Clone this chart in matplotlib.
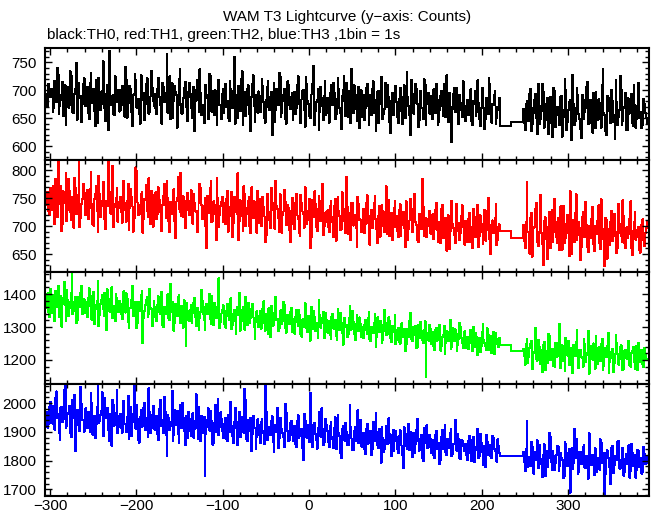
import numpy as np
import matplotlib
matplotlib.use("Agg")
import matplotlib.pyplot as plt
from matplotlib.ticker import MultipleLocator

plt.rcParams['font.family'] = ['Liberation Sans', 'DejaVu Sans']

# ---------------- data (counts per 1 s bin) ----------------
# each series is kept as counts of even seconds and counts of odd seconds
bin_width = 1.0
pre_start = -305.0
gap_edges = [221.0, 234.0, 248.0]   # two long bins covering the data gap


def arr(s):
    return np.array(s.split(), dtype=float)


th0_pre_even = arr("""
694 671 703
699 662 717 679 728 672 692 654 709 696 669 734 685 659 702 647 713 690 675 722
671 706 648 731 688 663 719 641 697 676 752 667 693 628 710 684 657 725 679 701
665 708 689 742 651 677 703 636 694 719 672 658 727 683 646 711 698 662 735 680
693 657 722 674 640 706 688 766 669 649 713 681 697 633 720 676 659 704 690 645
714 668 695 627 701 683 738 655 672 709 691 648 726 662 687 700 637 719 674 693
659 712 681 645 703 668 760 692 651 684 721 638 697 673 709 656 688 727 644 682
698 661 720 679 642 706 670 689 619 713 665 694 731 652 680 702 640 716 673 688
647 697 668 725 659 684 701 635 712 676 650 693 744 663 682 628 706 671 690 655
687 642 709 673 695 656 723 668 631 700 681 714 652 677 739 660 692 645 706 674
652 691 669 712 638 683 703 660 627 698 675 724 648 666 690 709 643 681 655 701
679 641 705 662 688 650 733 672 619 694 658 711 676 645 699 668 720 637 683 660
690 648 676 711 637 665 699 654 682 727 643 670 607 694 661 705 639 678 652 688
645 683 662 702 637 676 654 718 648 669 693 631 687 658 711 642 673 698 650 664
""")
th0_pre_odd = arr("""
676 712 688
703 668 690 741 657 682 715 699 638 706 674 727 661 693 750 670 686 643 711 681
692 659 714 677 703 636 688 722 665 698 680 645 709 771 674 691 656 717 683 662
700 674 653 719 686 708 661 692 729 669 684 640 711 696 675 722 658 689 705 671
667 702 688 645 714 679 696 660 725 684 651 707 692 673 738 658 686 715 669 698
688 651 706 680 719 662 695 674 641 710 686 730 668 699 655 683 712 673 649 702
694 670 651 717 685 699 640 676 708 663 734 681 654 702 688 627 711 671 692 660
662 689 707 651 683 716 664 697 680 643 702 674 725 660 692 649 684 709 667 695
688 658 710 676 641 699 665 724 681 654 692 713 638 679 702 661 687 647 716 670
659 696 676 714 649 685 703 660 690 726 654 672 698 641 683 709 667 692 633 700
681 647 705 672 692 655 716 664 684 641 699 677 657 714 670 688 624 696 662 708
652 684 697 640 709 673 688 655 719 662 677 703 634 690 668 649 711 676 695 658
676 702 659 684 643 690 671 711 652 680 696 628 667 705 685 647 692 664 716 653
673 655 690 644 681 699 662 677 636 705 668 649 684 722 657 676 692 640 670 687
""")
th0_gap = np.array([636, 643], dtype=float)
th0_post_even = arr("""
667 629 681 645 702 638 659 694 621 673 648 712 633 666 687 642 679 616 698 655
671 637 690 652 721 628 664 683 610 676 645 705 657 631 692 649 668 715 640 683
624 661 697 646 678 633 739 655 620 687 662 701 644 613 679 652 726 637 668 695
628 657 684 641 709 633 672 650 661 638 676 652
""")
th0_post_odd = arr("""
641 676 658 693 627 669 684 651 712 639 663 698 646 677 622 688 659 705 634 670
652 689 617 664 701 643 679 656 728 637 668 691 649 615 684 661 707 640 675 653
696 632 667 684 648 710 659 626 690 672 641 681 655 719 638 664 702 645 671 628
687 660 694 636 673 649 713 655 632 684 659 642
""")

th1_pre_even = arr("""
737 761 719
728 771 703 756 818 739 691 762 745 709 784 726 752 697 768 735 822 714 748 760
719 765 731 796 703 748 772 689 757 736 779 712 745 825 724 761 698 740 768 733
752 706 781 728 744 693 767 735 714 805 742 721 758 688 749 773 716 738 762 699
748 712 769 726 691 754 737 781 709 743 722 766 678 751 730 795 717 745 702 759
719 764 704 742 727 689 776 738 713 751 660 729 768 707 744 721 785 698 736 752
741 703 763 718 735 680 752 726 794 709 738 691 757 721 745 700 769 714 733 688
706 749 718 734 671 758 725 697 742 712 781 731 689 746 720 764 702 738 693 727
734 695 757 713 682 741 722 769 704 728 660 746 716 739 691 753 709 775 700 725
728 689 745 707 736 674 752 718 695 731 709 788 686 724 742 701 718 663 739 712
693 731 704 755 679 718 697 741 712 669 736 705 727 690 771 708 682 724 699 745
718 680 739 702 725 662 711 694 748 689 731 707 676 722 698 784 683 715 700 727
686 721 694 741 672 708 731 679 703 656 719 690 745 697 669 724 706 688 737 681
709 672 724 690 661 716 697 738 683 705 668 729 692 751 676 702 687 714 666 698
""")
th1_pre_odd = arr("""
752 726 768
757 733 784 716 749 771 704 742 795 728 763 711 747 786 722 755 698 740 776 731
748 712 767 739 701 758 727 790 716 745 769 695 736 761 722 808 733 750 708 744
725 763 741 708 776 733 752 690 744 798 719 738 761 712 747 727 785 703 740 756
760 721 747 699 738 775 714 751 690 733 762 708 744 788 725 718 753 696 740 729
745 705 757 726 690 742 768 713 736 699 754 724 780 709 738 675 751 720 743 707
712 748 690 734 761 705 739 722 675 746 718 771 700 732 752 687 726 744 708 763
738 700 752 717 683 745 710 768 729 695 736 714 757 688 726 743 704 733 672 750
703 741 719 688 756 726 697 735 710 748 680 725 762 699 731 716 745 684 722 707
699 735 716 681 748 708 727 693 760 714 688 734 705 675 741 720 696 752 710 689
724 688 742 705 667 729 713 753 694 719 681 738 700 726 686 747 711 675 732 698
691 729 683 716 697 744 676 710 726 689 758 702 671 720 694 735 709 680 713 687
712 677 729 693 706 670 738 686 715 697 659 723 703 684 740 691 675 718 699 667
683 712 671 699 730 680 706 662 719 690 701 674 727 687 650 710 694 739 676 703
""")
th1_gap = np.array([691, 679], dtype=float)
th1_post_even = arr("""
702 661 779 688 714 645 697 731 672 690 756 668 709 683 641 725 694 672 748 680
715 657 698 736 669 704 687 762 651 693 724 675 708 640 717 689 743 662 700 678
734 655 692 710 670 748 684 629 712 695 666 727 681 703 652 739 688 671 718 660
699 685 744 648 707 676 693 658 690 712 664 696
""")
th1_post_odd = arr("""
673 708 690 651 724 682 699 741 664 705 687 630 716 676 698 661 729 689 707 670
693 735 658 701 679 720 646 688 710 672 757 684 697 663 726 680 702 654 691 714
668 700 685 737 659 695 677 715 642 689 708 673 722 690 661 704 683 746 670 697
678 713 660 692 726 681 699 652 703 675 688 707
""")

th2_pre_even = arr("""
1358 1402 1331
1342 1398 1317 1381 1426 1352 1301 1389 1366 1412 1334 1377 1463 1348 1392 1320 1371 1405 1339 1384
1376 1329 1417 1352 1395 1308 1368 1441 1337 1382 1356 1403 1291 1374 1347 1420 1363 1318 1389 1345
1371 1323 1408 1344 1386 1297 1359 1426 1335 1377 1312 1364 1398 1251 1349 1383 1330 1416 1356 1339
1362 1317 1393 1338 1406 1301 1355 1377 1326 1432 1347 1289 1369 1334 1398 1312 1358 1381 1243 1350
1318 1366 1341 1389 1302 1356 1327 1412 1338 1290 1371 1349 1324 1395 1306 1362 1337 1448 1315 1353
1344 1298 1369 1321 1387 1306 1352 1279 1336 1403 1317 1361 1292 1340 1374 1312 1355 1329 1265 1348
1301 1349 1326 1378 1289 1333 1357 1270 1340 1312 1391 1325 1296 1351 1318 1366 1283 1337 1309 1359
1324 1280 1351 1302 1338 1271 1316 1372 1295 1333 1259 1320 1348 1289 1311 1382 1298 1327 1266 1342
1283 1319 1265 1341 1301 1274 1356 1290 1312 1246 1328 1305 1279 1364 1293 1317 1260 1336 1288 1309
1301 1266 1322 1280 1345 1258 1296 1313 1239 1329 1284 1307 1262 1351 1277 1299 1318 1255 1292 1336
1262 1298 1249 1311 1283 1227 1295 1269 1342 1257 1288 1303 1240 1279 1316 1261 1290 1149 1274 1306
1248 1284 1231 1297 1262 1306 1243 1275 1219 1289 1256 1322 1238 1270 1293 1226 1265 1301 1250 1279
1237 1271 1249 1292 1226 1260 1283 1215 1268 1241 1309 1252 1230 1277 1258 1222 1286 1246 1264 1239
""")
th2_pre_odd = arr("""
1379 1344 1415
1387 1346 1409 1362 1330 1395 1371 1438 1319 1383 1357 1402 1339 1376 1311 1391 1360 1425 1343 1370
1341 1389 1364 1322 1407 1355 1380 1303 1369 1396 1333 1372 1414 1350 1386 1327 1361 1399 1345 1378
1338 1379 1361 1402 1316 1357 1384 1333 1369 1297 1375 1348 1410 1326 1366 1391 1340 1359 1303 1380
1329 1368 1347 1385 1306 1360 1339 1400 1321 1358 1377 1313 1352 1390 1334 1365 1298 1349 1374 1322
1351 1312 1374 1330 1359 1291 1345 1381 1320 1363 1339 1401 1308 1348 1372 1327 1355 1296 1341 1366
1309 1350 1333 1377 1294 1341 1318 1362 1337 1289 1353 1323 1391 1305 1346 1328 1369 1300 1335 1314
1333 1295 1356 1312 1340 1280 1327 1363 1304 1345 1321 1288 1350 1309 1376 1298 1331 1314 1347 1285
1290 1331 1314 1352 1277 1323 1300 1342 1284 1318 1361 1295 1329 1305 1268 1336 1311 1347 1292 1320
1314 1276 1333 1295 1322 1260 1306 1344 1283 1318 1299 1269 1327 1291 1350 1280 1310 1296 1329 1271
1272 1308 1290 1326 1263 1301 1281 1340 1270 1297 1318 1251 1289 1312 1276 1330 1265 1303 1284 1247
1290 1254 1307 1271 1294 1246 1285 1320 1263 1299 1277 1235 1305 1268 1288 1252 1317 1281 1259 1296
1275 1240 1291 1259 1283 1228 1270 1304 1252 1286 1263 1233 1298 1257 1279 1245 1312 1266 1236 1287
1266 1232 1280 1251 1299 1238 1271 1256 1223 1285 1262 1243 1296 1229 1274 1255 1218 1281 1248 1268
""")
th2_gap = np.array([1245, 1227], dtype=float)
th2_post_even = arr("""
1233 1186 1265 1208 1249 1171 1224 1297 1198 1240 1213 1162 1256 1227 1191 1274 1205 1232 1180 1251
1219 1310 1196 1238 1167 1222 1259 1203 1184 1246 1212 1290 1175 1230 1207 1264 1193 1221 1158 1243
1201 1228 1272 1189 1216 1247 1170 1235 1208 1282 1194 1226 1163 1219 1252 1186 1239 1211 1173 1230
1204 1257 1180 1226 1195 1241 1168 1214 1220 1187 1236 1199
""")
th2_post_odd = arr("""
1211 1249 1190 1236 1258 1178 1221 1203 1262 1187 1229 1246 1169 1215 1278 1199 1234 1182 1253 1210
1226 1176 1244 1197 1268 1213 1185 1237 1160 1222 1255 1194 1231 1209 1180 1247 1216 1289 1189 1228
1250 1174 1212 1238 1196 1265 1183 1224 1243 1160 1207 1233 1191 1276 1218 1201 1245 1168 1229 1206
1258 1185 1222 1240 1172 1213 1251 1193 1230 1178 1216 1203
""")

th3_pre_even = arr("""
1948 1915 1986
1931 1992 1908 2041 1963 1872 1987 1945 2073 1919 1968 1896 2012 1950 1834 1977 1929 2058 1943 1901
1982 1913 1960 2034 1891 1955 1926 2075 1937 1974 1885 2019 1948 1906 1961 1852 1993 1930 2047 1918
1963 1897 2009 1929 1952 1875 1988 1934 2061 1911 1946 1863 1977 1920 2002 1949 1883 1968 1915 1991
1908 1956 1872 2013 1937 1895 1969 1817 1948 1920 2044 1889 1933 1974 1860 1926 2001 1903 1955 1879
1947 1886 1965 1910 2031 1874 1929 1956 1895 1748 1917 1982 1903 1939 1861 1995 1921 1888 1968 1902
1893 1948 1867 1929 2006 1884 1936 1912 1853 1970 1898 1925 2049 1876 1940 1902 1833 1957 1915 1881
1925 1860 1946 1897 2062 1871 1918 1888 1954 1829 1909 1983 1877 1932 1895 1846 1967 1904 1872 1938
1869 1921 1846 1958 1887 1912 1801 1939 1880 1903 2037 1858 1926 1894 1842 1971 1884 1910 1863 1946
1902 1848 1933 1874 1915 1839 1960 1886 1809 1921 1870 1899 1853 1994 1877 1836 1918 1889 1862 1941
1849 1897 1823 1928 1866 1904 1841 1882 1965 1855 1912 1793 1878 1839 1921 1862 1894 1817 1907 1870
1881 1827 1906 1852 1774 1893 1841 1929 1864 1812 1897 1858 1945 1835 1876 1808 1913 1869 1843 1889
1826 1872 1809 1903 1851 1788 1884 1839 1925 1820 1863 1897 1815 1858 1941 1833 1876 1805 1869 1842
1859 1802 1887 1826 1871 1795 1848 1912 1817 1863 1784 1840 1891 1821 1856 1808 1879 1832 1797 1851
""")
th3_pre_odd = arr("""
1971 1929 2004
1978 1926 2019 1950 1897 1984 1936 2047 1915 1962 1990 1881 1955 2028 1924 1968 1902 1996 1941 1979
1925 1969 1900 2001 1944 1879 1986 1932 1958 2038 1910 1951 1983 1869 1940 2011 1922 1967 1895 1956
1913 1975 1928 1899 2026 1946 1886 1961 1927 1994 1870 1952 1918 1983 1907 1941 2052 1896 1958 1930
1951 1893 1981 1919 1940 2022 1888 1960 1906 1934 1870 1977 1925 1893 1995 1912 1949 1854 1938 1970
1905 1960 1880 1937 1912 1986 1869 1924 1953 1892 1942 1908 1974 1856 1931 1899 2015 1917 1945 1878
1930 1876 1958 1901 1922 1862 1985 1909 1937 1883 1952 1897 2010 1868 1926 1950 1891 1915 1840 1944
1888 1936 1905 1859 1971 1893 1917 1940 1864 1926 1899 1845 1950 1911 1882 1998 1903 1869 1931 1890
1912 1857 1938 1879 1901 1842 1963 1890 1923 1865 1906 1847 1931 1872 1915 1889 1982 1853 1898 1926
1866 1920 1884 1843 1951 1878 1895 1826 1909 1871 1932 1856 1889 1918 1837 1903 1868 1975 1881 1850
1888 1838 1911 1859 1876 1820 1934 1867 1899 1845 1881 1916 1829 1873 1857 1947 1862 1890 1834 1905
1842 1885 1864 1819 1916 1851 1873 1837 1899 1860 1826 1908 1870 1845 1889 1798 1862 1923 1848 1877
1866 1818 1889 1840 1861 1802 1907 1853 1829 1875 1845 1912 1822 1858 1837 1894 1809 1871 1850 1833
1820 1868 1843 1799 1882 1836 1857 1810 1893 1829 1852 1778 1865 1838 1815 1886 1842 1809 1874 1826
""")
th3_gap = np.array([1817, 1817], dtype=float)
th3_post_even = arr("""
1829 1763 1937 1802 1781 1848 1755 1822 1871 1790 1806 1744 1857 1813 1779 1898 1797 1834 1766 1819
1851 1782 1808 1739 1864 1800 1827 1688 1843 1792 1815 1876 1760 1831 1798 1853 1775 1812 1895 1786
1821 1749 1839 1803 1769 1862 1794 1681 1828 1810 1778 1846 1757 1817 1801 1869 1772 1833 1748 1805
1789 1854 1764 1826 1795 1741 1838 1779 1808 1762 1823 1790
""")
th3_post_odd = arr("""
1795 1842 1778 1813 1866 1758 1829 1801 1773 1854 1787 1820 1746 1835 1808 1883 1769 1816 1792 1851
1764 1827 1803 1745 1858 1781 1839 1796 1770 1912 1811 1752 1832 1789 1846 1776 1818 1737 1863 1799
1785 1843 1760 1809 1874 1791 1826 1753 1836 1798 1719 1851 1783 1815 1866 1774 1802 1845 1762 1825
1796 1741 1857 1780 1819 1768 1833 1804 1755 1848 1787 1812
""")

xticks = [-300, -200, -100, 0, 100, 200, 300]
title = "WAM T3 Lightcurve (y\u2212axis: Counts)"
subtitle = "black:TH0, red:TH1, green:TH2, blue:TH3 ,1bin = 1s"


def merge(even, odd):
    n = min(len(even), len(odd))
    return np.column_stack([even[:n], odd[:n]]).ravel()


series = [
    (merge(th0_pre_even, th0_pre_odd), th0_gap, merge(th0_post_even, th0_post_odd),
     'black', (575, 776), 10, [600, 650, 700, 750]),
    (merge(th1_pre_even, th1_pre_odd), th1_gap, merge(th1_post_even, th1_post_odd),
     '#ff0000', (618, 818), 10, [650, 700, 750, 800]),
    (merge(th2_pre_even, th2_pre_odd), th2_gap, merge(th2_post_even, th2_post_odd),
     '#00ff00', (1127, 1467), 20, [1200, 1300, 1400]),
    (merge(th3_pre_even, th3_pre_odd), th3_gap, merge(th3_post_even, th3_post_odd),
     '#0000ff', (1677, 2067), 20, [1700, 1800, 1900, 2000]),
]

# ---------------- figure ----------------
fig = plt.figure(figsize=(6.52, 5.15), dpi=100)
W, H = 652.0, 515.0
left_px, right_px = 45.0, 649.0
edges_px = [48.0, 160.0, 272.0, 384.0, 496.0]

for i, (pre, gap, post, color, ylim, minor, yt) in enumerate(series):
    top, bot = edges_px[i], edges_px[i + 1]
    ax = fig.add_axes([left_px / W, 1 - bot / H, (right_px - left_px) / W, (bot - top) / H])
    pre_edges = pre_start + bin_width * np.arange(len(pre) + 1)
    post_edges = gap_edges[-1] + bin_width * np.arange(len(post) + 1)
    edges = np.concatenate([pre_edges, gap_edges[1:], post_edges[1:]])
    values = np.concatenate([pre, gap, post])
    ax.stairs(values, edges, color=color, linewidth=0.7, baseline=None, antialiased=False)
    ax.set_xlim(-305.8, 393.8)
    ax.set_ylim(*ylim)
    ax.set_yticks(yt)
    ax.yaxis.set_minor_locator(MultipleLocator(minor))
    ax.set_xticks(xticks)
    ax.xaxis.set_minor_locator(MultipleLocator(20))
    ax.tick_params(which='both', direction='in', top=True, right=True,
                   labelsize=11, width=1.0, colors='black')
    ax.tick_params(axis='y', pad=6)
    ax.tick_params(axis='x', pad=2)
    ax.tick_params(which='major', length=5)
    ax.tick_params(which='minor', length=3)
    if i < 3:
        ax.tick_params(labelbottom=False)
    for sp in ax.spines.values():
        sp.set_linewidth(1.5)

fig.text((left_px + right_px) / 2 / W, 1 - 17 / H, title, ha='center', va='center', fontsize=11)
fig.text(47 / W, 1 - 35 / H, subtitle, ha='left', va='center', fontsize=11)

fig.savefig("out.png", dpi=100)
